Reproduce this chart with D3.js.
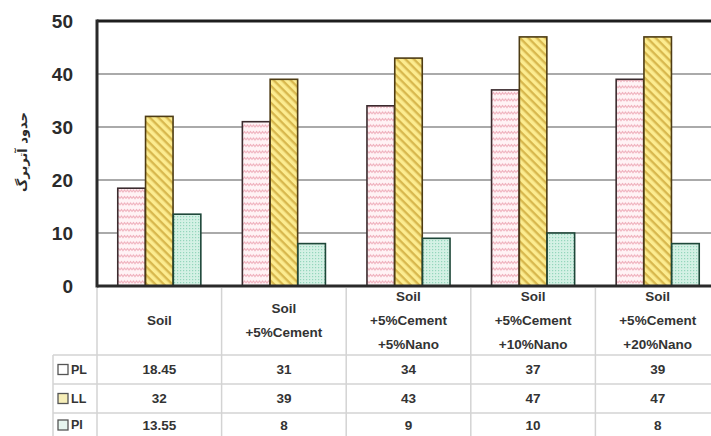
<!DOCTYPE html>
<html><head><meta charset="utf-8">
<script src="https://cdn.jsdelivr.net/npm/d3@7/dist/d3.min.js"></script>
<style>body{margin:0;background:#fff;}svg{display:block;}</style>
</head><body>
<svg id="c" width="711" height="436"></svg>
<script>
const categories = [["Soil"],["Soil","+5%Cement"],["Soil","+5%Cement","+5%Nano"],["Soil","+5%Cement","+10%Nano"],["Soil","+5%Cement","+20%Nano"]];
const seriesNames = ["PL","LL","PI"];
const PL = [18.45,31,34,37,39];
const LL = [32,39,43,47,47];
const PI = [13.55,8,9,10,8];
const PLlabels = ["18.45","31","34","37","39"];
const LLlabels = ["32","39","43","47","47"];
const PIlabels = ["13.55","8","9","10","8"];
const yTicks = [0,10,20,30,40,50];
const yTitle = "حدود آتربرگ";

(function(){
const series = [PL, LL, PI];
const seriesLabels = [PLlabels, LLlabels, PIlabels];
const svg = d3.select("#c");
const defs = svg.append("defs");

const p1 = defs.append("pattern").attr("id","pPL").attr("patternUnits","userSpaceOnUse").attr("width",6).attr("height",6.5);
p1.append("rect").attr("width",6).attr("height",6.5).attr("fill","#fff3f5");
p1.append("path").attr("d","M0,3.5 L1.5,1.5 L3,3.5 L4.5,1.5 L6,3.5").attr("fill","none").attr("stroke","#eeaab7").attr("stroke-width",1);
const p2 = defs.append("pattern").attr("id","pLL").attr("patternUnits","userSpaceOnUse").attr("width",6).attr("height",6).attr("patternTransform","rotate(45)");
p2.append("rect").attr("width",6).attr("height",6).attr("fill","#fcec90");
p2.append("rect").attr("width",6).attr("height",2.4).attr("fill","#d8b84e");
const p3 = defs.append("pattern").attr("id","pPI").attr("patternUnits","userSpaceOnUse").attr("width",3).attr("height",3);
p3.append("rect").attr("width",3).attr("height",3).attr("fill","#d4f1e5");
p3.append("rect").attr("width",1.2).attr("height",1.2).attr("fill","#94d6bc");
const fills = ["url(#pPL)","url(#pLL)","url(#pPI)"];
const strokes = ["#3b2b2e","#4e3c14","#1e4739"];
const keyFills = ["#ffffff","#f6eeb8","#e6f5ee"];

const pl = 97, pr = 720, pt = 21, pb = 286;
const x = d3.scaleBand().domain(d3.range(categories.length)).range([pl, pr]).paddingInner(0).paddingOuter(0);
const bw = x.bandwidth();
const xs = d3.scaleBand().domain(d3.range(3)).range([bw/6, bw*5/6]).paddingInner(0.01);
const y = d3.scaleLinear().domain([0,50]).range([pb, pt]);

svg.append("g").selectAll("line").data(yTicks.filter(d=>d>0 && d<50)).join("line")
  .attr("x1",pl).attr("x2",711).attr("y1",d=>y(d)).attr("y2",d=>y(d))
  .attr("stroke","#8e8e8e").attr("stroke-width",1.3);

const tg = svg.append("g").attr("stroke","#d3d3d3").attr("stroke-width",1.5);
d3.range(categories.length+1).forEach(i=>{
  tg.append("line").attr("x1",pl + i*bw).attr("x2",pl + i*bw).attr("y1",pb+2).attr("y2",436);
});
tg.append("line").attr("x1",53).attr("x2",53).attr("y1",355).attr("y2",436);
[355,384,413].forEach(yy=>tg.append("line").attr("x1",53).attr("x2",711).attr("y1",yy).attr("y2",yy));

series.forEach((vals,si)=>{
  svg.append("g").selectAll("rect").data(vals).join("rect")
    .attr("x",(d,i)=>x(i)+xs(si)).attr("width",xs.bandwidth())
    .attr("y",d=>y(d)).attr("height",d=>y(0)-y(d))
    .attr("fill",fills[si]).attr("stroke",strokes[si]).attr("stroke-width",1.6);
});

svg.append("line").attr("x1",pl).attr("x2",711).attr("y1",y(50)).attr("y2",y(50)).attr("stroke","#1e1e1e").attr("stroke-width",3);
svg.append("line").attr("x1",pl).attr("x2",711).attr("y1",y(0)).attr("y2",y(0)).attr("stroke","#2a2a2a").attr("stroke-width",3);
svg.append("line").attr("x1",pl).attr("x2",pl).attr("y1",y(50)-1.5).attr("y2",y(0)+1.5).attr("stroke","#2a2a2a").attr("stroke-width",3);

const yAxis = d3.axisLeft(y).tickValues(yTicks).tickSize(0).tickPadding(0);
const ya = svg.append("g").attr("transform","translate(73,0)").call(yAxis);
ya.select(".domain").remove();
ya.selectAll("text").attr("font-family","Liberation Sans, Arial, sans-serif").attr("font-weight","bold")
  .attr("font-size",19).attr("fill","#2b2b2b").attr("dy","0.35em");

svg.append("text").attr("transform",`translate(27,152) rotate(-90)`).attr("text-anchor","middle")
  .attr("font-family","DejaVu Sans, sans-serif").attr("font-weight","bold").attr("font-size",13).attr("fill","#2b2b2b")
  .attr("direction","rtl").text(yTitle);

const lineGap = 24;
categories.forEach((lines,i)=>{
  const cx = x(i)+bw/2;
  const n = lines.length;
  const y0 = 320 - (n-1)*lineGap/2;
  const t = svg.append("text").attr("text-anchor","middle").attr("font-family","Liberation Sans, Arial, sans-serif")
    .attr("font-weight","bold").attr("font-size",13.5).attr("fill","#333");
  lines.forEach((l,k)=>t.append("tspan").attr("x",cx).attr("y",y0+k*lineGap).attr("dy","0.35em").text(l));
});

const rowY = [369.5, 398.5, 425];
seriesNames.forEach((nm,si)=>{
  svg.append("rect").attr("x",58).attr("y",rowY[si]-5).attr("width",10).attr("height",10)
    .attr("fill",keyFills[si]).attr("stroke","#555").attr("stroke-width",1.3);
  svg.append("text").attr("x",71).attr("y",rowY[si]).attr("dy","0.35em")
    .attr("font-family","Liberation Sans, Arial, sans-serif").attr("font-weight","bold").attr("font-size",12.5).attr("fill","#333").text(nm);
  svg.append("g").selectAll("text").data(seriesLabels[si]).join("text")
    .attr("x",(d,i)=>x(i)+bw/2).attr("y",rowY[si]).attr("dy","0.35em").attr("text-anchor","middle")
    .attr("font-family","Liberation Sans, Arial, sans-serif").attr("font-weight","bold").attr("font-size",13.5).attr("fill","#333")
    .text(d=>d);
});
})();
</script>
</body></html>
